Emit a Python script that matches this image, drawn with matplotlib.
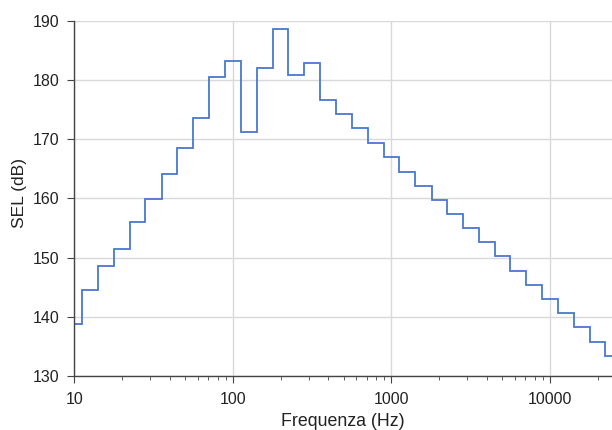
import numpy as np
import matplotlib
matplotlib.use('Agg')
import matplotlib.pyplot as plt
import matplotlib.ticker as tck

plt.rcParams.update({'font.family': 'Liberation Sans', 'font.size': 11.5})

# third-octave band nominal centres (Hz)
bands = [10, 12.5, 16, 20, 25, 31.5, 40, 50, 63, 80, 100, 125, 160, 200, 250,
         315, 400, 500, 630, 800, 1000, 1250, 1600, 2000, 2500, 3150, 4000,
         5000, 6300, 8000, 10000, 12500, 16000, 20000, 25000]
sel = [138.8, 144.6, 148.65, 151.4, 156.0, 159.9, 164.1, 168.5, 173.5, 180.4,
       183.15, 171.2, 182.0, 188.65, 180.9, 182.9, 176.6, 174.2, 171.8, 169.4,
       166.95, 164.5, 162.15, 159.75, 157.4, 155.0, 152.6, 150.2, 147.75, 145.4,
       143.0, 140.6, 138.2, 135.8, 133.4]

f = np.array(bands, dtype=float)
edges = np.concatenate([[f[0] / 10**0.05], np.sqrt(f[:-1] * f[1:]), [f[-1] * 10**0.05]])

fig = plt.figure(figsize=(6.12, 4.30), dpi=100)
ax = fig.add_axes([0.1215, 0.1256, 0.8785, 0.8264])

ax.stairs(sel, edges, baseline=None, color='#4a78d0', linewidth=1.3)

ax.set_xscale('log')
ax.set_xlim(10, 24600)
ax.set_ylim(130, 190)
ax.yaxis.set_major_locator(tck.MultipleLocator(10))
ax.xaxis.set_major_formatter(tck.ScalarFormatter())
ax.xaxis.set_minor_formatter(tck.NullFormatter())

ax.grid(which='major', color='#d9d9d9', linewidth=1.0)
ax.set_axisbelow(True)
for s in ['top', 'right']:
    ax.spines[s].set_visible(False)
for s in ['left', 'bottom']:
    ax.spines[s].set_color('#444444')
    ax.spines[s].set_linewidth(1.0)
ax.tick_params(which='major', length=5, color='#444444', labelcolor='#222222')
ax.tick_params(which='minor', length=3, color='#444444')
ax.tick_params(axis='x', which='major', pad=6.5)
ax.tick_params(axis='y', which='major', pad=6)

ax.set_xlabel('Frequenza (Hz)', color='#222222', fontsize=12.8)
ax.set_ylabel('SEL (dB)', color='#222222', fontsize=12.6)
ax.xaxis.set_label_coords(0.5, -0.105)
ax.yaxis.set_label_coords(-0.089, 0.516)

plt.savefig('out.png', dpi=100)
